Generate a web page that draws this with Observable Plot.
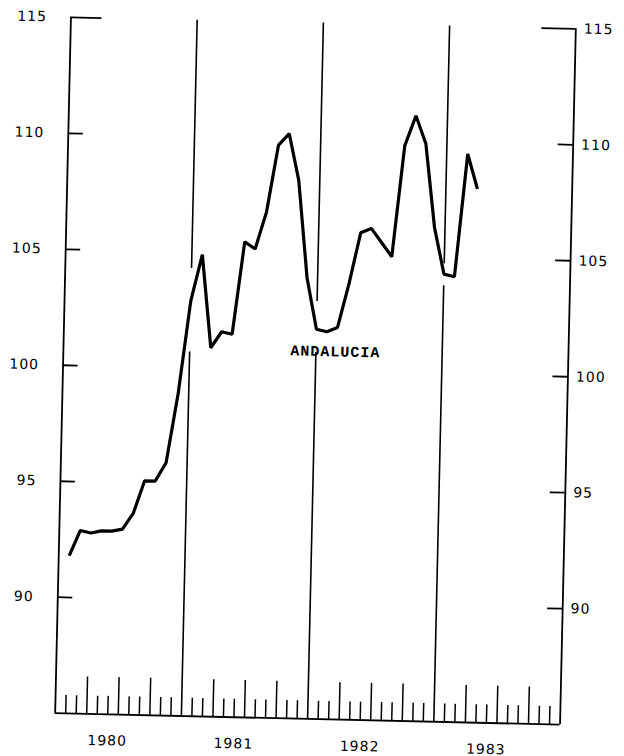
<!DOCTYPE html>
<html>
<head>
<meta charset="utf-8">
<script src="https://cdn.jsdelivr.net/npm/d3@7"></script>
<script src="https://cdn.jsdelivr.net/npm/@observablehq/plot@0.6"></script>
<style>
  html, body { margin: 0; padding: 0; background: #fff; overflow: hidden; }
  #chart { width: 624px; height: 756px; }
</style>
</head>
<body>
<div id="chart"></div>
<script>
// ---- data ----
const regionName = "ANDALUCIA";
const yearLabels = ["1980", "1981", "1982", "1983"];
const yTicks = [90, 95, 100, 105, 110, 115];
// monthly index, Jan 1980 .. Mar 1983
const values = [
  91.8, 92.9, 92.8, 92.9, 92.9, 93.0, 93.7, 95.1, 95.1, 95.9, 98.9, 102.9,
  104.9, 100.9, 101.6, 101.5, 105.5, 105.2, 106.8, 109.7, 110.2, 108.2, 104.0, 101.8,
  101.7, 101.9, 103.8, 106.0, 106.2, 105.6, 105.0, 109.8, 111.1, 109.9, 106.3, 104.3,
  104.2, 109.5, 108.0
];
// year separators (month index) and the gap left around the curve
const yearBreaks = [12, 24, 36];
const gapLow = [100.7, 100.8, 103.8];
const gapHigh = [104.3, 103.0, 104.75];
const labelMonth = 25; // region label sits under the Jan 1982 trough

// ---- derived tables ----
const series = values.map((v, i) => ({month: i + 1, value: v}));
const breaks = yearBreaks.map((m, i) => ({month: m, low: gapLow[i], high: gapHigh[i]}));
const monthTicks = d3.range(1, 48).filter(m => m % 12 !== 0);
const years = yearLabels.map((t, i) => ({x: 12 * i + 5, text: t}));
const labelPoint = series.filter(d => d.month === labelMonth);

const W = 624, H = 756;
const mL = 62.5, mR = 56.5, mT = 22.5, mB = 37.5;
const Y0 = 85, Y1 = 115;
const pxPerUnit = (H - mT - mB) / (Y1 - Y0);
const pxPerMonth = (W - mL - mR) / 48;

const numFont = "DejaVu Sans";

const chart = Plot.plot({
  width: W,
  height: H,
  marginLeft: mL,
  marginRight: mR,
  marginTop: mT,
  marginBottom: mB,
  style: {background: "white", fontFamily: numFont, fontSize: "14px", color: "black"},
  x: {domain: [0, 48], axis: null},
  y: {domain: [Y0, Y1], axis: null},
  marks: [
    // frame: left & right axes, bottom axis
    Plot.ruleX([0, 48], {y1: Y0, y2: Y1, stroke: "black", strokeWidth: 1.8}),
    Plot.ruleY([Y0], {x1: 0, x2: 48, stroke: "black", strokeWidth: 1.8}),
    // year separators, broken around the curve
    Plot.ruleX(breaks, {x: "month", y1: Y0, y2: "low", stroke: "black", strokeWidth: 1.6}),
    Plot.ruleX(breaks, {x: "month", y1: "high", y2: Y1, stroke: "black", strokeWidth: 1.6}),
    // monthly ticks on the bottom axis (taller at quarters)
    Plot.ruleX(monthTicks, {
      x: d => d, y1: Y0,
      y2: d => Y0 + (d % 3 === 0 ? 37 : 18) / pxPerUnit,
      stroke: "black", strokeWidth: 1.5
    }),
    // y ticks pointing inwards
    Plot.ruleY(yTicks, {
      y: d => d, x1: 0,
      x2: d => (d === 115 ? 31 : 15) / pxPerMonth,
      stroke: "black", strokeWidth: 1.8
    }),
    Plot.ruleY(yTicks, {
      y: d => d, x2: 48,
      x1: d => 48 - (d === 115 ? 34 : 15) / pxPerMonth,
      stroke: "black", strokeWidth: 1.8
    }),
    // y labels
    Plot.text(yTicks, {
      x: 0, y: d => d, text: d => String(d), textAnchor: "end", dx: -24,
      fontSize: 14, fill: "black", style: "letter-spacing:1px"
    }),
    Plot.text(yTicks, {
      x: 48, y: d => d, text: d => String(d), textAnchor: "start", dx: 8,
      fontSize: 14, fill: "black"
    }),
    // the series
    Plot.line(series, {
      x: "month", y: "value", stroke: "black", strokeWidth: 3.2,
      strokeLinejoin: "miter", strokeLinecap: "butt"
    }),
    // region label
    Plot.text(labelPoint, {
      x: "month", y: "value", text: () => regionName, dx: 9, dy: 19.5,
      fontFamily: "Liberation Mono", fontSize: 15, fontWeight: "bold", fill: "black"
    }),
    // year labels
    Plot.text(years, {
      x: "x", y: Y0, text: "text", dy: 26.5, fontSize: 14, fill: "black"
    })
  ]
});

chart.style.transform = "rotate(1.3deg)";
chart.style.transformOrigin = "315px 370.5px";
chart.querySelectorAll("text").forEach(t => t.style.letterSpacing = "1px");
document.getElementById("chart").appendChild(chart);
</script>
</body>
</html>
